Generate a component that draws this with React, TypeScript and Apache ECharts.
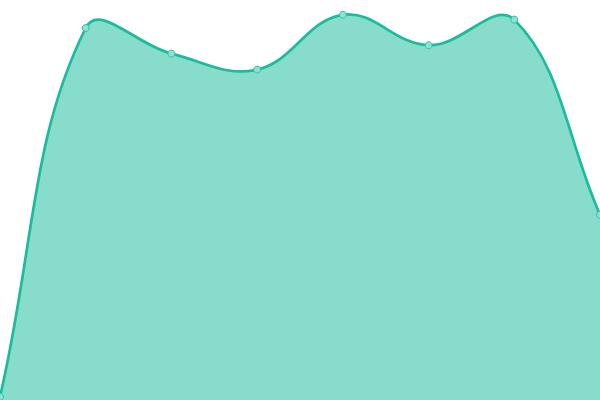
import React, { useEffect, useRef } from 'react';
import * as echarts from 'echarts';

const categories = ['A', 'B', 'C', 'D', 'E', 'F', 'G', 'H'];
const values = [0.8, 93, 86.6, 82.6, 96.3, 88.7, 95.1, 46.3];

const TENSION = 0.4;

// spline through the points; end points aim at their neighbour
function smoothPath(pts: number[][], w: number, h: number): string {
  const cps = pts.map((p, i) => {
    const prev = pts[i - 1] || p;
    const next = pts[i + 1] || p;
    const d01 = Math.hypot(p[0] - prev[0], p[1] - prev[1]);
    const d12 = Math.hypot(next[0] - p[0], next[1] - p[1]);
    let s01 = d01 / (d01 + d12);
    let s12 = d12 / (d01 + d12);
    if (isNaN(s01)) s01 = 0;
    if (isNaN(s12)) s12 = 0;
    const fa = TENSION * s01;
    const fb = TENSION * s12;
    const dx = next[0] - prev[0];
    const dy = next[1] - prev[1];
    const cap = (x: number, y: number) => [Math.min(Math.max(x, 0), w), Math.min(Math.max(y, 0), h)];
    return {
      before: cap(p[0] - fa * dx, p[1] - fa * dy),
      after: cap(p[0] + fb * dx, p[1] + fb * dy),
    };
  });

  let d = `M${pts[0][0]},${pts[0][1]}`;
  for (let i = 1; i < pts.length; i++) {
    const a = cps[i - 1].after;
    const b = cps[i].before;
    d += ` C${a[0]},${a[1]} ${b[0]},${b[1]} ${pts[i][0]},${pts[i][1]}`;
  }
  return d;
}

const App: React.FC = () => {
  const chartRef = useRef<HTMLDivElement>(null);

  useEffect(() => {
    if (!chartRef.current) return;
    document.body.style.margin = '0';

    const chart = echarts.init(chartRef.current, null, { renderer: 'svg' });

    const option: echarts.EChartsOption = {
      animation: false,
      grid: { left: 0, right: 0, top: 0, bottom: 0 },
      xAxis: {
        type: 'category',
        boundaryGap: false,
        data: categories,
        show: false,
      },
      yAxis: {
        type: 'value',
        min: 0,
        max: 100,
        show: false,
      },
      series: [
        {
          type: 'custom',
          data: values.map((v, i) => [i, v]),
          clip: false,
          renderItem: (params: any, api: any) => {
            if (params.dataIndex !== 0) return null;
            const pts = values.map((v, i) => api.coord([i, v]));
            const line = smoothPath(pts, api.getWidth(), api.getHeight());
            const base0 = api.coord([0, 0]);
            const baseN = api.coord([values.length - 1, 0]);
            const area = `${line} L${baseN[0]},${baseN[1]} L${base0[0]},${base0[1]} Z`;
            return {
              type: 'group',
              children: [
                {
                  type: 'path',
                  shape: { pathData: area },
                  style: { fill: 'rgba(26,188,156,0.52)', stroke: 'none' },
                },
                {
                  type: 'path',
                  shape: { pathData: line },
                  style: { fill: 'none', stroke: '#1abc9c', lineWidth: 2.7 },
                },
              ],
            };
          },
        },
        {
          type: 'line',
          data: values,
          z: 5,
          symbol: 'circle',
          symbolSize: 7,
          lineStyle: { opacity: 0 },
          itemStyle: { color: '#8ce2d2', borderColor: '#2fc2a5', borderWidth: 1 },
        },
      ],
    };

    chart.setOption(option);

    return () => {
      chart.dispose();
    };
  }, []);

  return <div ref={chartRef} style={{ width: '600px', height: '400px' }} />;
};

export default App;
